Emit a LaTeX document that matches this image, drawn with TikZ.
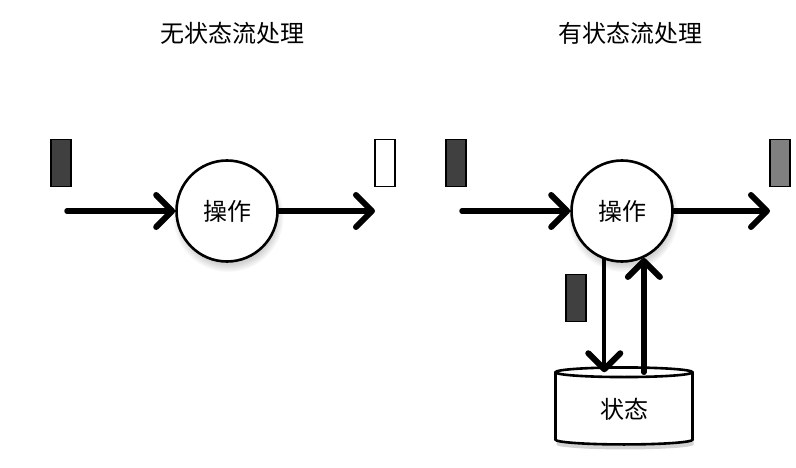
\documentclass[tikz,border=0pt]{standalone}
\usepackage{fontspec}
\newfontfamily\cjk{Noto Sans CJK SC}
\usetikzlibrary{arrows.meta,positioning,shapes.geometric,shadows}

\begin{document}
\begin{tikzpicture}[x=1pt,y=-1pt,
 evt/.style={draw,line width=1.8pt,minimum width=20pt,minimum height=47pt,inner sep=0pt},
 op/.style={circle,draw,line width=2.6pt,fill=white,minimum size=101pt,inner sep=0pt,font=\cjk\fontsize{24}{26}\selectfont,circular drop shadow={shadow xshift=1pt,shadow yshift=-5pt,opacity=.35}},
 store/.style={cylinder,shape border rotate=90,aspect=0.2,draw,line width=2.6pt,fill=white,minimum width=137pt,minimum height=77pt,inner sep=0pt,font=\cjk\fontsize{24}{26}\selectfont,drop shadow={shadow xshift=1pt,shadow yshift=-5pt,opacity=.35}},
 flow/.style={line width=5.5pt,line cap=round,-{Straight Barb[length=16pt,width=32pt,line width=6pt,round]}},
 ttl/.style={font=\cjk\fontsize{24}{26}\selectfont}]
\useasboundingbox (0,0) rectangle (796,468);
% stateless
\node[ttl] (t1) at (232,33) {无状态流处理};
\node[evt,fill=black!75] (inA) at (61,163) {};
\node[op] (opA) at (227,211) {操作};
\node[evt,fill=white] (outA) at (385,163) {};
\coordinate (srcA) at (67,211);
\coordinate (dstA) at (375,211);
\draw[flow] (srcA) -- (opA);
\draw[flow] (opA) -- (dstA);
% stateful
\node[ttl] (t2) at (630,33) {有状态流处理};
\node[evt,fill=black!75] (inB) at (456,163) {};
\node[op] (opB) at (622,211) {操作};
\node[evt,fill=black!50] (outB) at (780,163) {};
\coordinate (srcB) at (462,211);
\coordinate (dstB) at (770,211);
\draw[flow] (srcB) -- (opB);
\draw[flow] (opB) -- (dstB);
\node[store] (st) at (624,409) {状态};
\node[evt,fill=black!75] (upd) at (576,298) {};
\draw[flow,line width=4pt] (opB.250) -- (opB.250 |- st.before top);
\draw[flow] (opB.295 |- st.after top) -- (opB.295);
\end{tikzpicture}
\end{document}
